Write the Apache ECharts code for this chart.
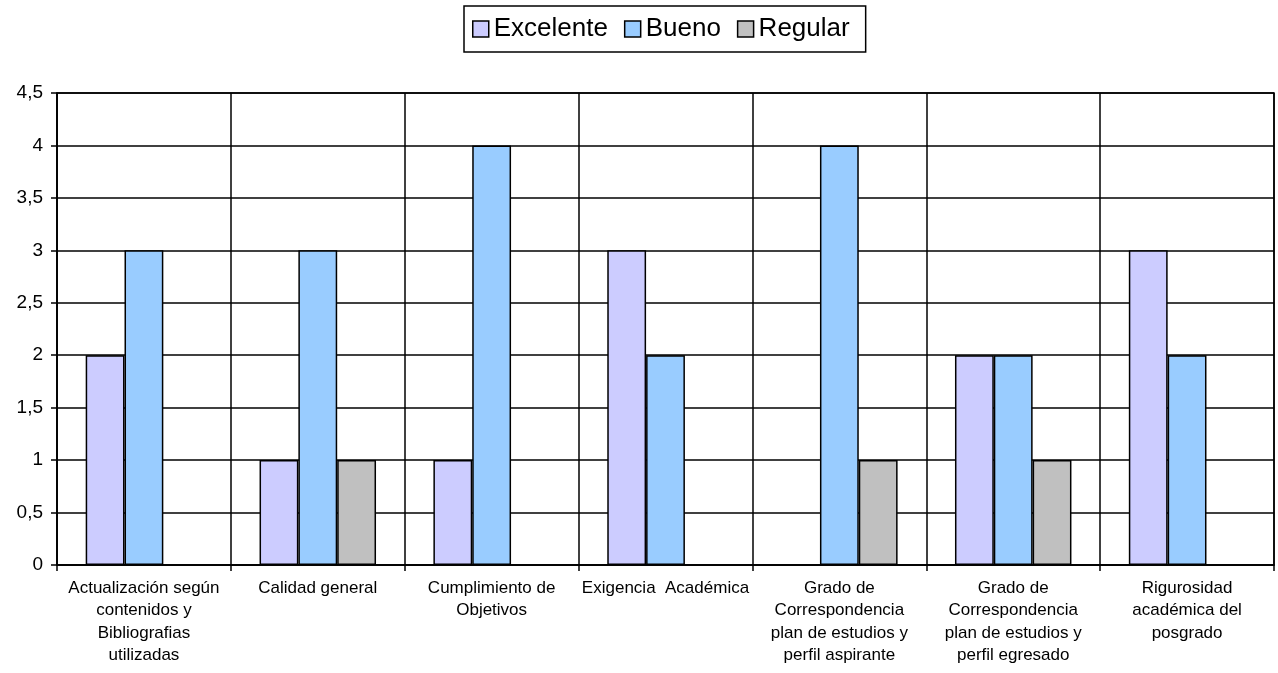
<!DOCTYPE html>
<html><head><meta charset="utf-8">
<script src="https://cdn.jsdelivr.net/npm/echarts@6/dist/echarts.min.js"></script>
<style>html,body{margin:0;padding:0;background:#fff}#c{width:1278px;height:673px}</style>
</head><body><div id="c"></div>
<script>
const categories = [
  'Actualización según\ncontenidos y\nBibliografias\nutilizadas',
  'Calidad general',
  'Cumplimiento de\nObjetivos',
  'Exigencia  Académica',
  'Grado de\nCorrespondencia\nplan de estudios y\nperfil aspirante',
  'Grado de\nCorrespondencia\nplan de estudios y\nperfil egresado',
  'Rigurosidad\nacadémica del\nposgrado'
];
const excelente = [2, 1, 1, 3, 0, 2, 3];
const bueno = [3, 3, 4, 2, 4, 2, 2];
const regular = [0, 1, 0, 0, 1, 1, 0];
const yTicks = { min: 0, max: 4.5, interval: 0.5 };

const chart = echarts.init(document.getElementById('c'));
const font = 'Liberation Sans, Arial, sans-serif';
const LW = 1.5;
function mk(name, data, color) {
  return {
    name, type: 'bar',
    // zero-height bars are not drawn in the reference
    data: data.map(v => (v === 0 ? '-' : v)),
    barGap: '0%', barCategoryGap: '33%',
    itemStyle: { color, borderColor: '#000', borderWidth: LW }
  };
}
chart.setOption({
  animation: false,
  textStyle: { fontFamily: font },
  legend: {
    top: 6, left: 464,
    itemWidth: 16, itemHeight: 16, itemGap: 16,
    borderColor: '#000', borderWidth: LW, padding: [10, 16, 10, 8],
    icon: 'rect',
    itemStyle: { borderColor: '#000', borderWidth: LW },
    textStyle: { fontSize: 26, color: '#000', fontFamily: font },
    data: ['Excelente', 'Bueno', 'Regular']
  },
  grid: { left: 57, right: 4, top: 93, bottom: 108, show: true, borderColor: '#000', borderWidth: LW },
  xAxis: {
    type: 'category', data: categories,
    axisLine: { lineStyle: { color: '#000', width: LW } },
    axisTick: { show: true, length: 6, lineStyle: { color: '#000', width: LW } },
    splitLine: { show: true, lineStyle: { color: '#000', width: LW } },
    axisLabel: { color: '#000', fontSize: 17, lineHeight: 22.5, margin: 12, interval: 0, fontFamily: font }
  },
  yAxis: {
    type: 'value', min: yTicks.min, max: yTicks.max, interval: yTicks.interval,
    axisLine: { show: true, lineStyle: { color: '#000', width: LW } },
    axisTick: { show: true, length: 6, lineStyle: { color: '#000', width: LW } },
    splitLine: { show: true, lineStyle: { color: '#000', width: LW } },
    axisLabel: { color: '#000', fontSize: 19, margin: 14, fontFamily: font,
      formatter: v => String(v).replace('.', ',') }
  },
  series: [
    mk('Excelente', excelente, '#ccccff'),
    mk('Bueno', bueno, '#99ccff'),
    mk('Regular', regular, '#c0c0c0')
  ]
});
</script></body></html>
